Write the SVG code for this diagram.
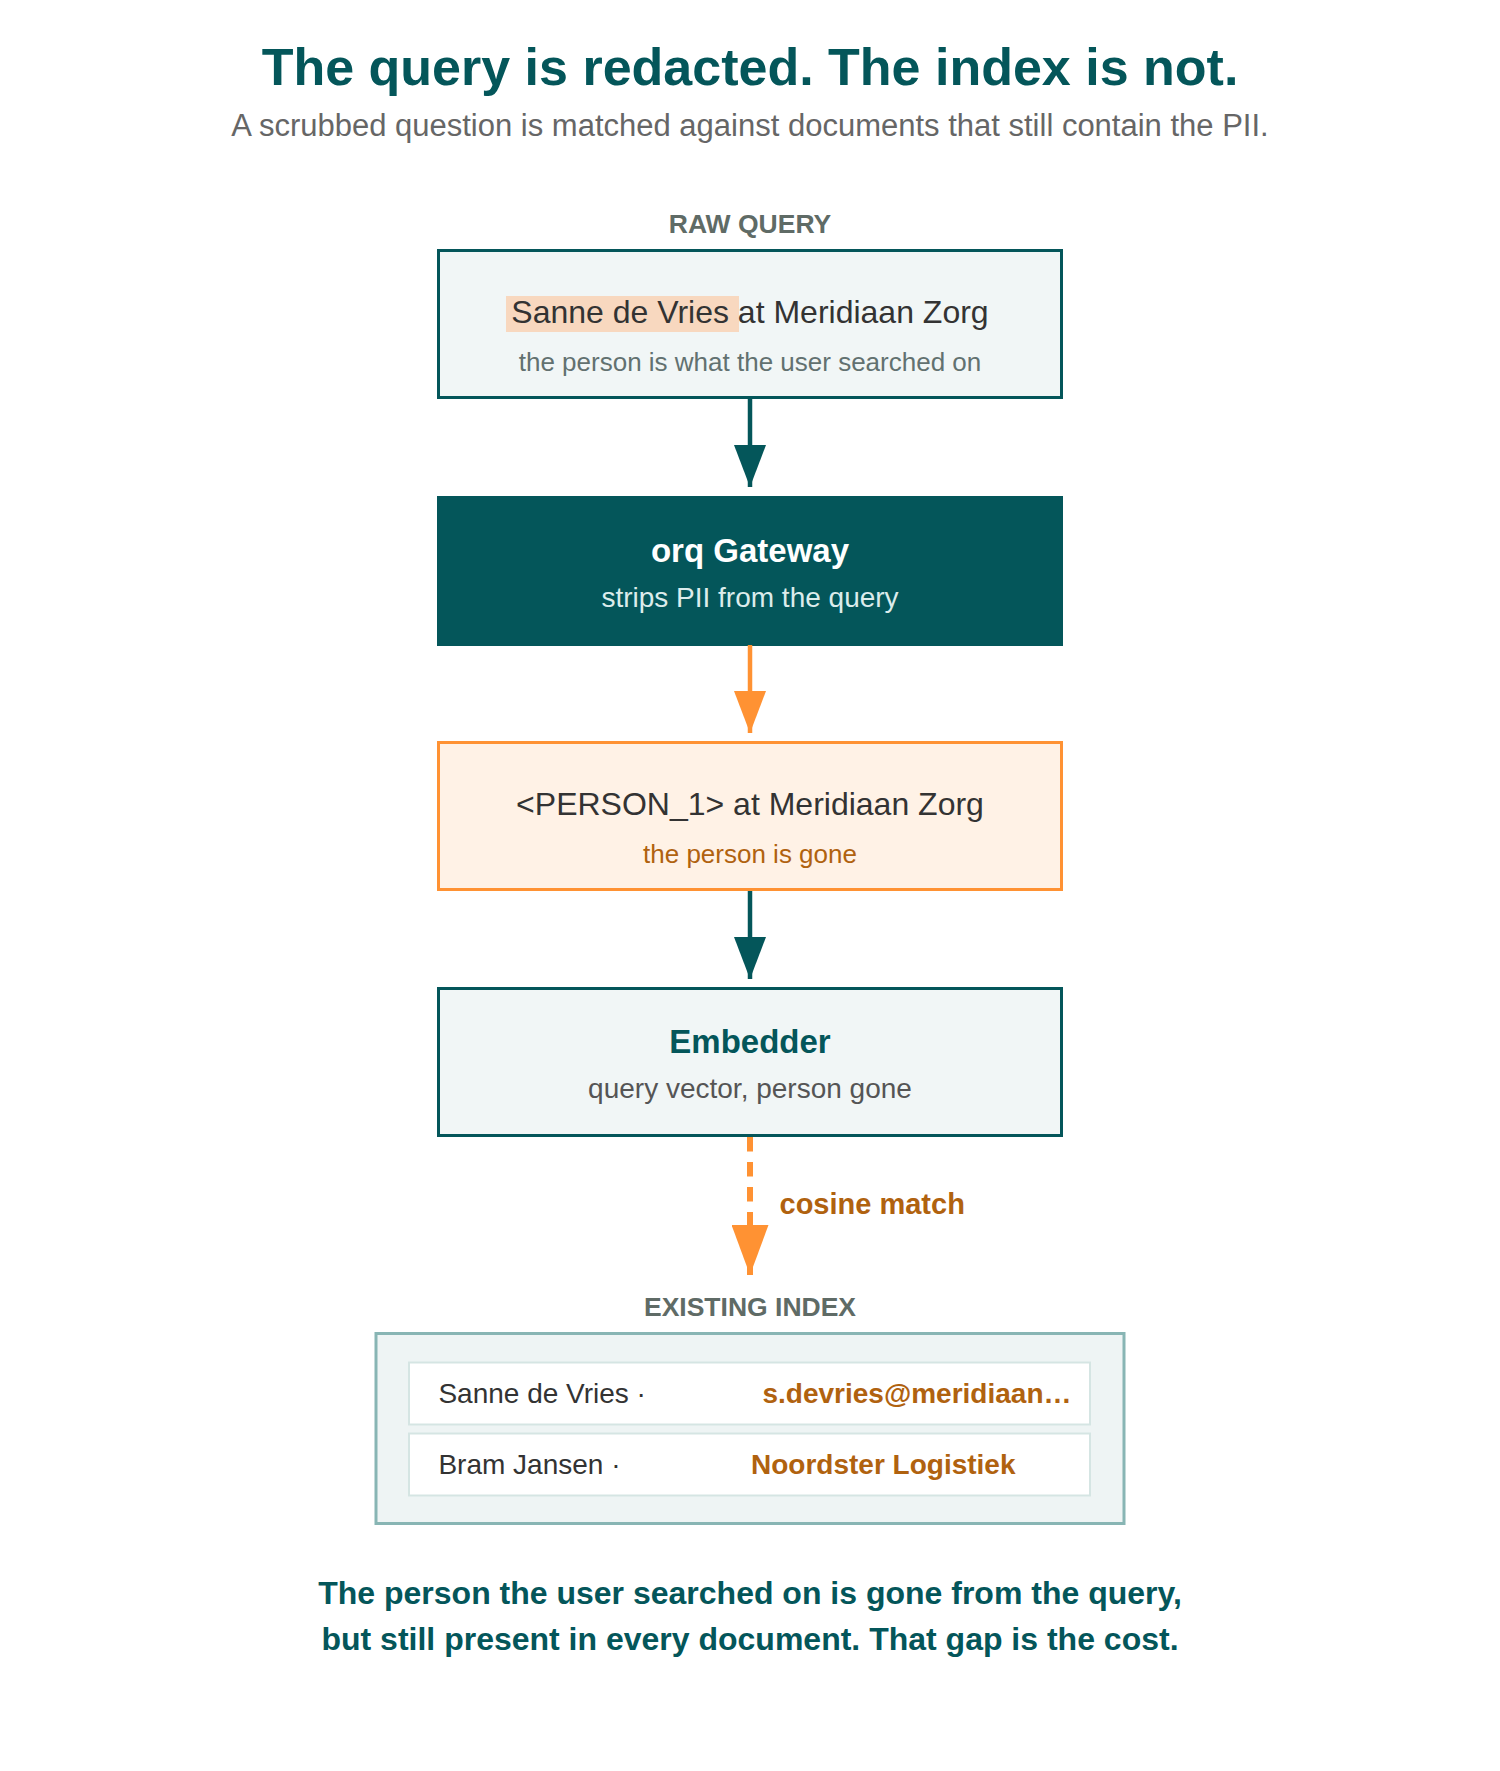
<svg xmlns="http://www.w3.org/2000/svg" width="1500" height="1771" viewBox="0 0 1500 1771">
  <style>
    text { font-family: "Liberation Sans", Arial, Helvetica, sans-serif; }
    .title { font-size: 52px; font-weight: bold; fill: #04565a; }
    .subtitle { font-size: 31px; fill: #666666; }
    .label { font-size: 26.5px; font-weight: bold; fill: #5f6b66; }
    .main { font-size: 32px; fill: #333333; }
    .note { font-size: 26px; fill: #627170; }
    .head { font-size: 33px; font-weight: bold; }
    .sub { font-size: 28px; }
    .box { stroke-width: 3; }
    .row { fill: #ffffff; stroke: #d5e5e3; stroke-width: 2; }
    .rowname { font-size: 28px; fill: #333333; }
    .rowval { font-size: 28px; font-weight: bold; fill: #b0620f; }
    .edge-label { font-size: 29px; font-weight: bold; fill: #b0620f; }
    .footer { font-size: 32px; font-weight: bold; fill: #04565a; }
  </style>
  <defs>
    <marker id="arrTeal" markerUnits="userSpaceOnUse" markerWidth="42" markerHeight="32" viewBox="0 0 42 32" refX="42" refY="16" orient="auto">
      <path d="M0,0 L42,16 L0,32 z" fill="#04565a"/>
    </marker>
    <marker id="arrOrange" markerUnits="userSpaceOnUse" markerWidth="42" markerHeight="32" viewBox="0 0 42 32" refX="42" refY="16" orient="auto">
      <path d="M0,0 L42,16 L0,32 z" fill="#ff9233"/>
    </marker>
    <marker id="arrOrangeBig" markerUnits="userSpaceOnUse" markerWidth="50" markerHeight="37" viewBox="0 0 50 37" refX="50" refY="18.5" orient="auto">
      <path d="M0,0 L50,18.5 L0,37 z" fill="#ff9233"/>
    </marker>
  </defs>

  <rect x="0" y="0" width="1500" height="1771" fill="#ffffff"/>

  <g id="header">
    <text class="title" x="750" y="84.5" text-anchor="middle">The query is redacted. The index is not.</text>
    <text class="subtitle" x="750" y="136" text-anchor="middle">A scrubbed question is matched against documents that still contain the PII.</text>
  </g>

  <g id="raw-query">
    <text class="label" x="750" y="233" text-anchor="middle">RAW QUERY</text>
    <rect class="box" x="438.5" y="250.5" width="623" height="147" fill="#f1f6f6" stroke="#04565a"/>
    <rect x="506" y="296" width="233" height="36" fill="#f8d8bf"/>
    <text class="main" x="750" y="322.7" text-anchor="middle">Sanne de Vries at Meridiaan Zorg</text>
    <text class="note" x="750" y="370.7" text-anchor="middle">the person is what the user searched on</text>
  </g>

  <g id="gateway">
    <rect class="box" x="438.5" y="497.5" width="623" height="147" fill="#04565a" stroke="#04565a"/>
    <text class="head" x="750" y="561.7" text-anchor="middle" fill="#ffffff">orq Gateway</text>
    <text class="sub" x="750" y="607" text-anchor="middle" fill="#dcecec">strips PII from the query</text>
  </g>

  <g id="redacted-query">
    <rect class="box" x="438.5" y="742.5" width="623" height="147" fill="#fff2e6" stroke="#ff9233"/>
    <text class="main" x="750" y="815" text-anchor="middle">&lt;PERSON_1&gt; at Meridiaan Zorg</text>
    <text class="note" x="750" y="862.7" text-anchor="middle" style="fill:#b0620f">the person is gone</text>
  </g>

  <g id="embedder">
    <rect class="box" x="438.5" y="988.5" width="623" height="147" fill="#f1f6f6" stroke="#04565a"/>
    <text class="head" x="750" y="1053" text-anchor="middle" fill="#04565a">Embedder</text>
    <text class="sub" x="750" y="1098" text-anchor="middle" fill="#555555">query vector, person gone</text>
  </g>

  <g id="existing-index">
    <text class="label" x="750" y="1316" text-anchor="middle">EXISTING INDEX</text>
    <rect x="376" y="1333.5" width="748" height="190" fill="#eef4f4" stroke="#88b5b4" stroke-width="3"/>
    <rect class="row" x="409" y="1362.5" width="681" height="62"/>
    <text class="rowname" x="438.4" y="1403">Sanne de Vries ·</text>
    <text class="rowval" x="762.5" y="1403">s.devries@meridiaan…</text>
    <rect class="row" x="409" y="1433.5" width="681" height="62"/>
    <text class="rowname" x="438.4" y="1474">Bram Jansen ·</text>
    <text class="rowval" x="751" y="1474">Noordster Logistiek</text>
  </g>

  <g id="connectors">
    <line x1="750" y1="399" x2="750" y2="487" stroke="#04565a" stroke-width="4.5" marker-end="url(#arrTeal)"/>
    <line x1="750" y1="645" x2="750" y2="733" stroke="#ff9233" stroke-width="4.5" marker-end="url(#arrOrange)"/>
    <line x1="750" y1="891" x2="750" y2="979" stroke="#04565a" stroke-width="4.5" marker-end="url(#arrTeal)"/>
    <line x1="750" y1="1137" x2="750" y2="1275" stroke="#ff9233" stroke-width="6" stroke-dasharray="14.5 10.5" marker-end="url(#arrOrangeBig)"/>
    <text class="edge-label" x="779.5" y="1214">cosine match</text>
  </g>

  <g id="footer">
    <text class="footer" x="750" y="1604" text-anchor="middle">The person the user searched on is gone from the query,</text>
    <text class="footer" x="750" y="1650" text-anchor="middle">but still present in every document. That gap is the cost.</text>
  </g>
</svg>
